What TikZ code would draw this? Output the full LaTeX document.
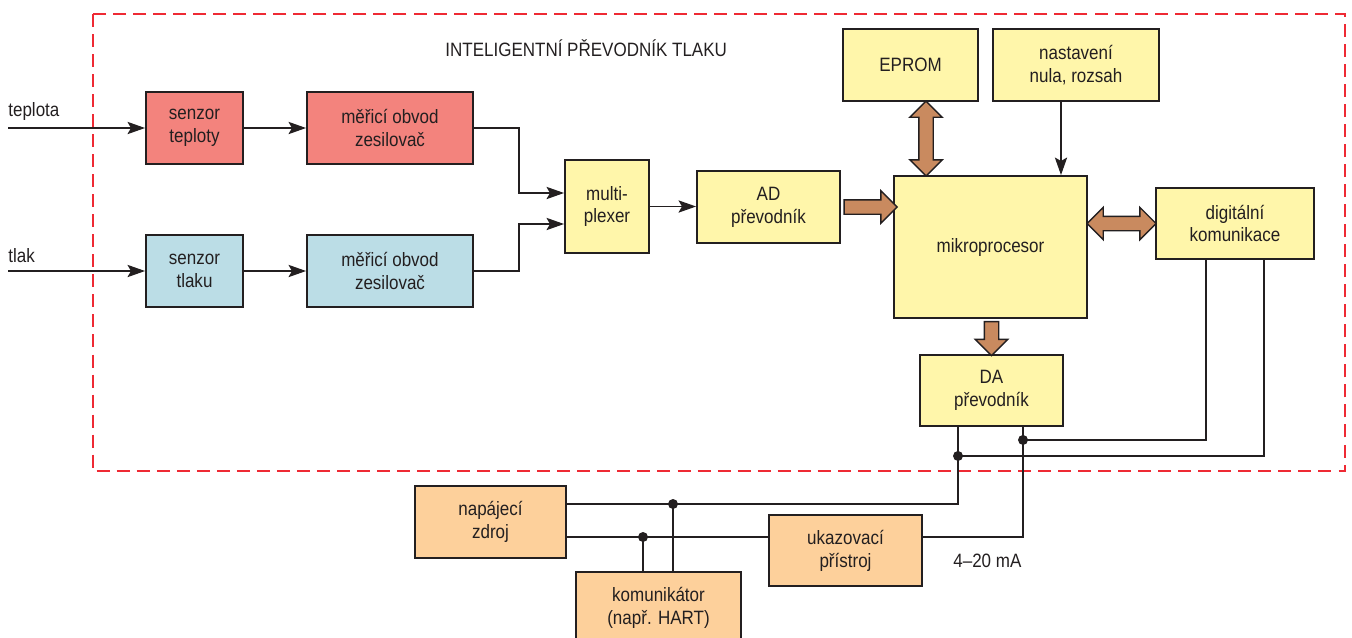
\documentclass[tikz,border=0pt]{standalone}
\usepackage{fontspec}
\setmainfont{Liberation Sans}[FakeStretch=0.88]
\usepackage{tikz}
\usetikzlibrary{arrows.meta}
\usetikzlibrary{shapes.arrows}
\usetikzlibrary{calc}
\tikzset{>={Stealth[length=10pt,width=7pt,inset=2pt]}}

\definecolor{txtgray}{HTML}{231F20}
\definecolor{senzred}{HTML}{F3837D}
\definecolor{senzblue}{HTML}{BBDDE6}
\definecolor{chipyel}{HTML}{FFF6AA}
\definecolor{extorange}{HTML}{FDD09B}
\definecolor{buscol}{HTML}{C98A5F}
\definecolor{framered}{HTML}{EE2A34}

\tikzset{
    blok/.style={draw=txtgray, line width=1.1pt, align=center, inner sep=0pt},
    label/.style={anchor=base west, inner sep=0pt},
    sig/.style={draw=txtgray, line width=0.7pt},
    bus/.style={draw=txtgray, line width=0.8pt, fill=buscol, inner sep=0.13cm, outer sep=0pt},
    dot/.style={circle, fill=txtgray, inner sep=0pt, minimum size=0.2cm},
    frame/.style={draw=framered, line width=1.4pt, dash pattern=on 7.4pt off 4pt},
}

\begin{document}
\begin{tikzpicture}[x=0.02cm, y=-0.02cm, font=\fontsize{11}{13}\selectfont, text=txtgray]
    \useasboundingbox (0,0) rectangle (1352,637);

    % Frame of the transmitter
    \draw[frame] (93,14) rectangle (1345,471);
    \node[label] (title) at (445,56) {INTELIGENTNÍ PŘEVODNÍK TLAKU};

    % Sensors and amplifiers
    \node[blok, fill=senzred, minimum width=1.94cm, minimum height=1.44cm] (sT) at (194.5,128) {senzor\\teploty};
    \node[blok, fill=senzred, minimum width=3.32cm, minimum height=1.44cm] (mT) at (390,128) {měřicí obvod\\zesilovač};
    \node[blok, fill=senzblue, minimum width=1.94cm, minimum height=1.44cm] (sP) at (194.5,271) {senzor\\tlaku};
    \node[blok, fill=senzblue, minimum width=3.32cm, minimum height=1.44cm] (mP) at (390,271) {měřicí obvod\\zesilovač};

    % Electronics
    \node[blok, fill=chipyel, minimum width=1.68cm, minimum height=1.86cm] (mux) at (607,206.5) {multi-\\plexer};
    \node[blok, fill=chipyel, minimum width=2.86cm, minimum height=1.44cm] (ad) at (768.5,207) {AD\\převodník};
    \node[blok, fill=chipyel, minimum width=2.70cm, minimum height=1.44cm] (eprom) at (910.5,65) {EPROM};
    \node[blok, fill=chipyel, minimum width=3.32cm, minimum height=1.44cm] (nast) at (1076,65) {nastavení\\nula, rozsah};
    \node[blok, fill=chipyel, minimum width=3.86cm, minimum height=2.84cm] (mcu) at (990.5,247) {mikroprocesor};
    \node[blok, fill=chipyel, minimum width=3.16cm, minimum height=1.42cm] (dig) at (1235,223.5) {digitální\\komunikace};
    \node[blok, fill=chipyel, minimum width=2.86cm, minimum height=1.42cm] (da) at (991.5,390.5) {DA\\převodník};

    % Outside devices
    \node[blok, fill=extorange, minimum width=3.02cm, minimum height=1.44cm] (nap) at (490.5,522) {napájecí\\zdroj};
    \node[blok, fill=extorange, minimum width=3.30cm, minimum height=1.44cm] (kom) at (658.5,608) {komunikátor\\(např. HART)};
    \node[blok, fill=extorange, minimum width=3.06cm, minimum height=1.42cm] (uka) at (845.5,550.5) {ukazovací\\přístroj};

    % Inputs
    \coordinate (inT) at (8,128);
    \coordinate (inP) at (8,271);
    \node[label] (lT) at (8,116) {teplota};
    \node[label] (lP) at (8,262) {tlak};
    \draw[sig, ->] (inT) -- (sT.west);
    \draw[sig, ->] (inP) -- (sP.west);
    \draw[sig, ->] (sT.east) -- (mT.west);
    \draw[sig, ->] (sP.east) -- (mP.west);

    % To the multiplexer
    \coordinate (mx1) at ($(mux.west)+(0,-13.5)$);
    \coordinate (mx2) at ($(mux.west)+(0,17.5)$);
    \draw[sig, ->] (mT.east) -- ++(45,0) |- (mx1);
    \draw[sig, ->] (mP.east) -- ++(45,0) |- (mx2);
    \draw[sig, ->] (mux.east) -- (mux.east -| ad.west);

    % Setting
    \coordinate (nA) at ($(nast.south)+(-15,0)$);
    \coordinate (nB) at (nA |- mcu.north);
    \draw[sig, ->] (nA) -- (nB);

    % Buses
    \coordinate (b1) at (ad.east -| mcu.west);
    \node[bus, single arrow, single arrow head extend=0.18cm, minimum height=1.06cm] (adbus) at ($(ad.east)!0.5!(b1)$) {};

    \coordinate (e1) at ($(eprom.south)+(15.5,0)$);
    \coordinate (e2) at (e1 |- mcu.north);
    \node[bus, double arrow, double arrow head extend=0.18cm, minimum height=1.5cm, rotate=90] (epbus) at ($(e1)!0.5!(e2)$) {};

    \coordinate (d1) at (dig.west -| mcu.east);
    \node[bus, double arrow, double arrow head extend=0.18cm, minimum height=1.38cm] (dgbus) at ($(d1)!0.5!(dig.west)$) {};

    \coordinate (a1) at (mcu.south -| da.north);
    \coordinate (a2) at ($(da.north)+(0,-3)$);
    \node[bus, single arrow, single arrow head extend=0.18cm, minimum height=0.68cm, rotate=-90] (dabus) at ($(a1)!0.5!(a2)$) {};

    % Current loop
    \coordinate (daL) at ($(da.south)+(-33.5,0)$);
    \coordinate (daR) at ($(da.south)+(31.5,0)$);
    \coordinate (dgL) at ($(dig.south)+(-29,0)$);
    \coordinate (dgR) at ($(dig.south)+(29,0)$);
    \coordinate (napA) at ($(nap.east)+(0,-18)$);
    \coordinate (napB) at ($(nap.east)+(0,15)$);
    \coordinate (ukA) at ($(uka.west)+(0,-13.5)$);
    \coordinate (ukB) at ($(uka.east)+(0,-13.5)$);
    \coordinate (kA) at ($(kom.north)+(-15.5,0)$);
    \coordinate (kB) at ($(kom.north)+(14.5,0)$);

    \node[dot] (jL) at ($(daL)+(0,29)$) {};
    \node[dot] (jR) at ($(daR)+(0,13)$) {};
    \node[dot] (jA) at (kB |- napA) {};
    \node[dot] (jB) at (kA |- napB) {};

    \draw[sig] (daL) |- (napA);
    \draw[sig] (daR) |- (ukB);
    \draw[sig] (jL.center) -| (dgR);
    \draw[sig] (jR.center) -| (dgL);
    \draw[sig] (napB) -- (ukA);
    \draw[sig] (jA.center) -- (kB);
    \draw[sig] (jB.center) -- (kA);

    \node[label] (mA) at (953,567) {4–20 mA};

\end{tikzpicture}
\end{document}
